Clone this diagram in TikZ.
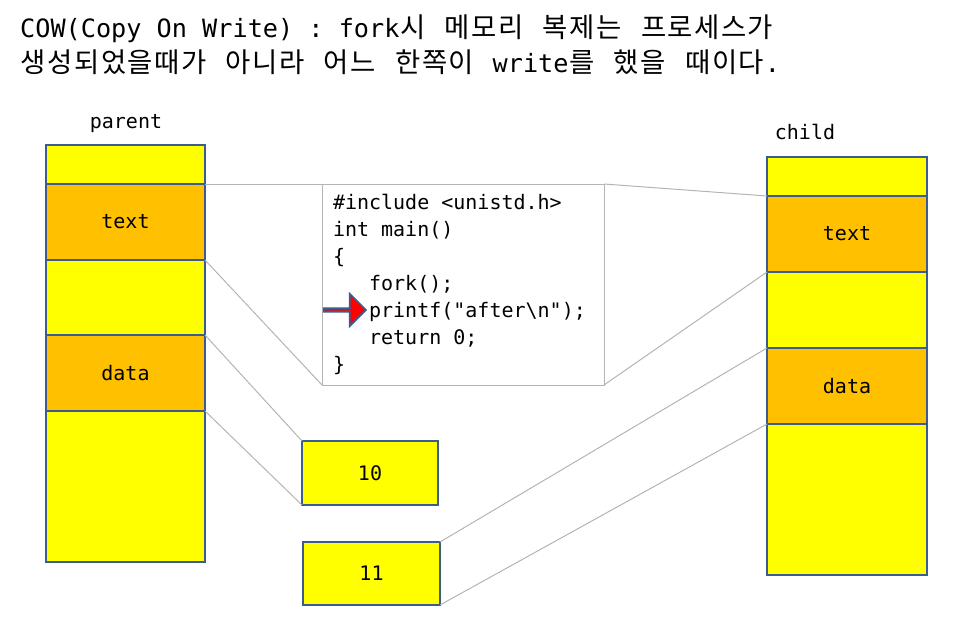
\documentclass[tikz,border=0pt]{standalone}
\usepackage{fontspec}
\setmonofont{DejaVu Sans Mono}
\newfontfamily\kr[Scale=1.09]{Noto Sans CJK KR}
\usepackage{tikz}
\usetikzlibrary{shapes.arrows}

\definecolor{segyellow}{HTML}{FFFF00}
\definecolor{segorange}{HTML}{FFC000}
\definecolor{segblue}{HTML}{3A5C8F}
\definecolor{linkgray}{HTML}{B4B4B4}

\newcommand{\blank}{\hphantom{x}}
\newcommand{\wordgap}{\hspace*{18pt}}
% korean syllables in fixed cells, as in the monospaced original
\newcommand{\ko}[1]{\kocell#1\relax}
\def\kocell#1{\ifx\relax#1\else\makebox[26.7pt]{\kr #1}\expandafter\kocell\fi}

\begin{document}
\begin{tikzpicture}[
x=1pt, y=-1pt,
seg/.style={draw=segblue, line width=2.2pt, fill=segyellow, inner sep=0pt, outer sep=0pt, minimum width=159pt, font=\ttfamily\fontsize{20}{24}\selectfont},
used/.style={seg, fill=segorange},
heading/.style={anchor=base west, inner sep=0pt, font=\ttfamily\fontsize{25.2}{30}\selectfont},
caption/.style={font=\ttfamily\fontsize{20}{24}\selectfont, inner sep=0pt},
codebox/.style={draw=linkgray, line width=1pt, fill=white, outer sep=0pt, minimum width=282pt, minimum height=201pt, text width=260pt, inner xsep=11pt, align=left, font=\ttfamily\fontsize{20}{27}\selectfont},
pointer/.style={single arrow, single arrow head extend=8pt, single arrow head indent=0pt, minimum height=42pt, minimum width=32pt, inner sep=0pt, fill=red, draw=segblue, line width=1.8pt},
link/.style={draw=linkgray, line width=1pt}
]
\useasboundingbox (0,0) rectangle (960,621);

% title
\node[heading] (title1) at (20,37) {COW(Copy\blank On\blank Write)\blank:\blank fork\ko{시}\wordgap\ko{메모리}\wordgap\ko{복제는}\wordgap\ko{프로세스가}};
\node[heading] (title2) at (20,72) {\ko{생성되었을때가}\wordgap\ko{아니라}\wordgap\ko{어느}\wordgap\ko{한쪽이}\wordgap write\ko{를}\wordgap\ko{했을}\wordgap\ko{때이다}.};

% parent memory
\node[caption] (parent) at (126,124) {parent};
\node[seg, minimum height=39pt] (p0) at (125.5,164.5) {};
\node[used, minimum height=76pt] (ptext) at (125.5,222) {text};
\node[seg, minimum height=75pt] (p2) at (125.5,297.5) {};
\node[used, minimum height=76pt] (pdata) at (125.5,373) {data};
\node[seg, minimum height=151pt] (p4) at (125.5,486.5) {};

% child memory
\node[caption] (child) at (805,132) {child};
\node[seg, minimum width=160pt, minimum height=39pt] (c0) at (847,176.5) {};
\node[used, minimum width=160pt, minimum height=76pt] (ctext) at (847,234) {text};
\node[seg, minimum width=160pt, minimum height=76pt] (c2) at (847,310) {};
\node[used, minimum width=160pt, minimum height=76pt] (cdata) at (847,386) {data};
\node[seg, minimum width=160pt, minimum height=151pt] (c4) at (847,499.5) {};

% shared code
\node[codebox, anchor=north west] (code) at (322,184) {%
\#include\blank<unistd.h>\\
int\blank main()\\
\{\\
\blank\blank\blank fork();\\
\blank\blank\blank printf("after\textbackslash n");\\
\blank\blank\blank return\blank 0;\\
\}};
\node[pointer] (here) at (344,310) {};

% values
\node[seg, minimum width=136pt, minimum height=64pt] (val10) at (370,473) {10};
\node[seg, minimum width=137pt, minimum height=63pt] (val11) at (371.5,573.5) {11};

% mappings
\draw[link] (ptext.north east) -- (code.north west);
\draw[link] (ptext.south east) -- (code.south west);
\draw[link] (code.north east) -- (ctext.north west);
\draw[link] (code.south east) -- (ctext.south west);
\draw[link] (pdata.north east) -- (val10.north west);
\draw[link] (pdata.south east) -- (val10.south west);
\draw[link] (val11.north east) -- (cdata.north west);
\draw[link] (val11.south east) -- (cdata.south west);
\end{tikzpicture}
\end{document}
